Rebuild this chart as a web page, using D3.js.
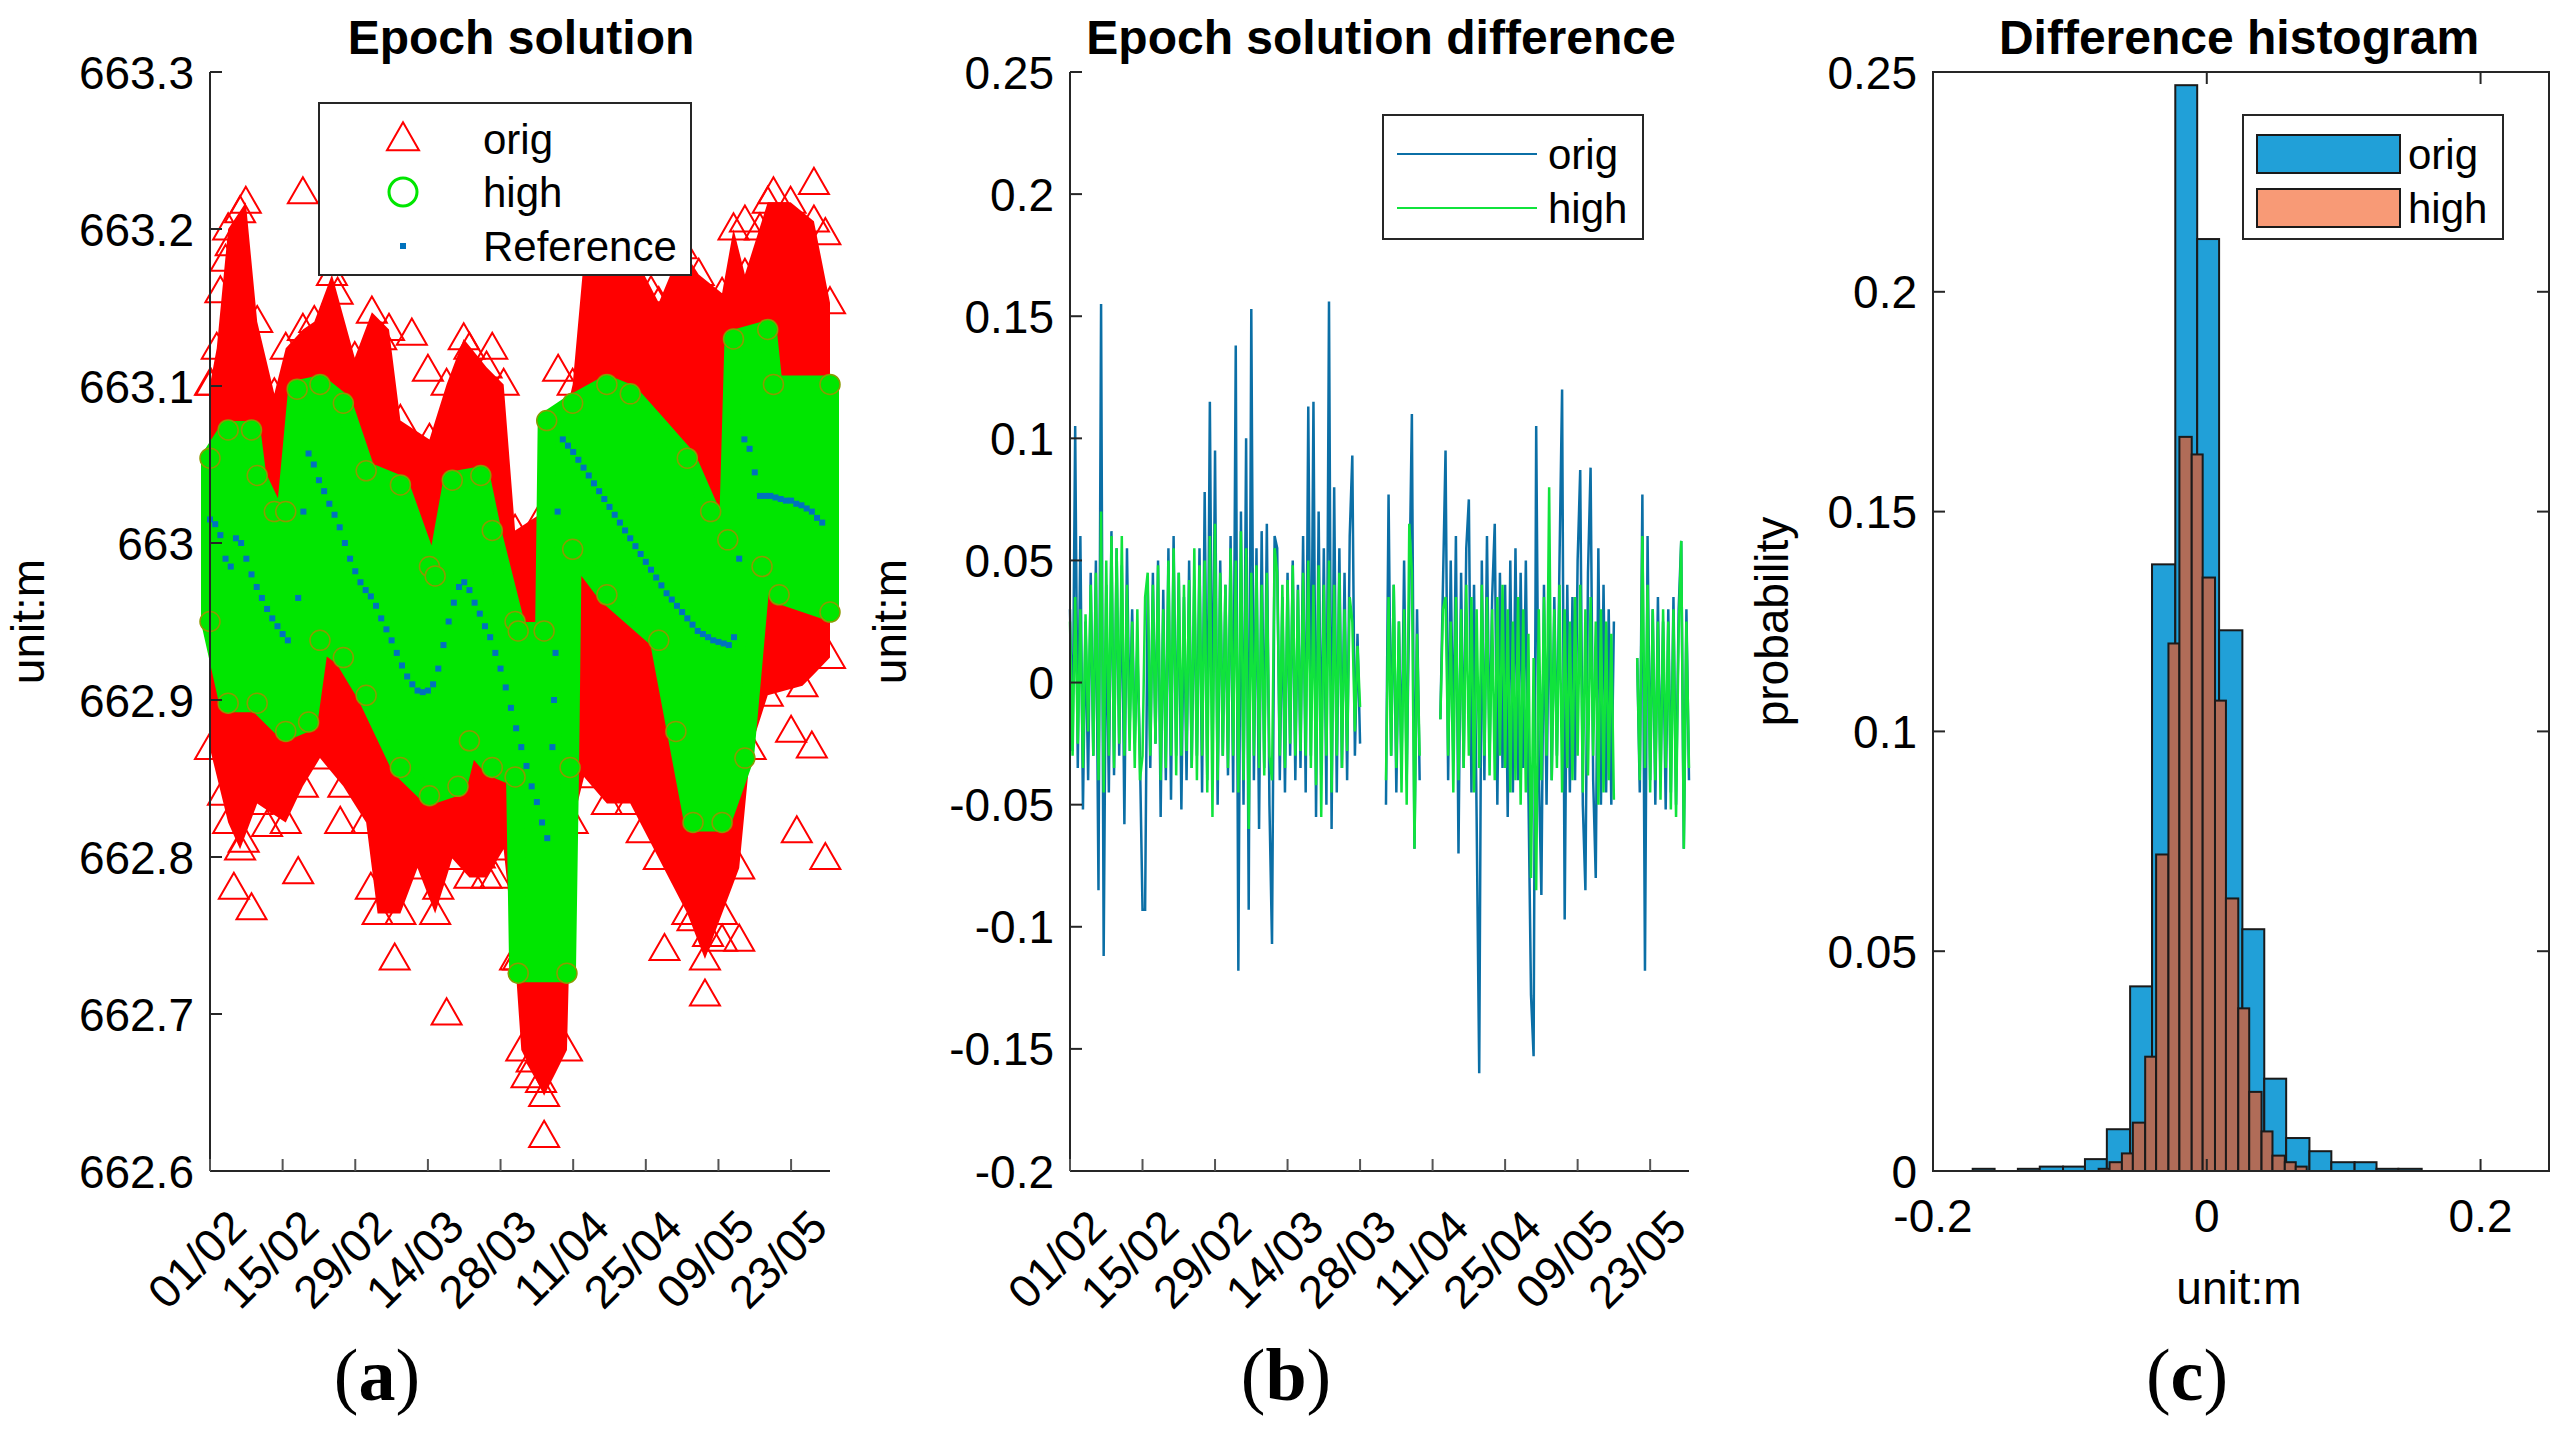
<!DOCTYPE html>
<html>
<head>
<meta charset="utf-8">
<script src="https://cdn.jsdelivr.net/npm/d3@7"></script>
<style>
body { margin: 0; background: #fff; }
text { font-family: "Liberation Sans", Arial, sans-serif; }
</style>
</head>
<body>
<svg id="chart" width="2568" height="1430"></svg>
<script>
// days counted from 01/02/2016
const dateTicks = [0, 14, 28, 42, 56, 70, 84, 98, 112]
const dateLabels = ["01/02", "15/02", "29/02", "14/03", "28/03", "11/04", "25/04", "09/05", "23/05"]

// (a) epoch solution
const refSeries = [[0,663.015],[1,663.012],[2,663.005],[3,662.99],[4,662.985],[5,663.003],[6,663.0],[7,662.99],[8,662.98],[9,662.972],[10,662.965],[11,662.958],[12,662.952],[13,662.947],[14,662.942],[15,662.938],[17,662.965],[18,663.02],[19,663.057],[20,663.05],[21,663.04],[22,663.033],[23,663.025],[24,663.018],[25,663.01],[26,663.0],[27,662.99],[28,662.982],[29,662.975],[30,662.97],[31,662.966],[32,662.96],[33,662.952],[34,662.945],[35,662.938],[36,662.93],[37,662.922],[38,662.915],[39,662.91],[40,662.906],[41,662.905],[42,662.906],[43,662.91],[44,662.92],[45,662.935],[46,662.95],[47,662.962],[48,662.972],[49,662.975],[50,662.97],[51,662.962],[52,662.955],[53,662.947],[54,662.94],[55,662.93],[56,662.92],[57,662.908],[58,662.895],[59,662.882],[60,662.87],[61,662.858],[62,662.845],[63,662.835],[64,662.822],[65,662.812],[66,662.87],[66.3,662.9],[66.6,662.93],[67,663.02],[68,663.066],[69,663.062],[70,663.058],[71,663.053],[72,663.048],[73,663.043],[74,663.038],[75,663.033],[76,663.028],[77,663.023],[78,663.018],[79,663.013],[80,663.008],[81,663.003],[82,662.998],[83,662.993],[84,662.988],[85,662.983],[86,662.978],[87,662.973],[88,662.968],[89,662.964],[90,662.96],[91,662.956],[92,662.952],[93,662.948],[94,662.944],[95,662.942],[96,662.94],[97,662.938],[98,662.937],[99,662.936],[100,662.935],[101,662.94],[102,662.99],[103,663.066],[104,663.06],[105,663.045],[106,663.03],[107,663.03],[108,663.03],[109,663.029],[110,663.028],[111,663.027],[112,663.027],[113,663.025],[114,663.024],[115,663.022],[116,663.02],[117,663.016],[118,663.013]]

const highTop = [[0,663.054],[3.5,663.072],[8,663.072],[9.1,663.043],[12.4,663.02],[14.6,663.02],[16.8,663.098],[21.2,663.101],[25.7,663.089],[30.1,663.046],[36.7,663.037],[42.3,662.985],[43.4,662.979],[46.7,663.04],[52.2,663.043],[54.4,663.008],[58.8,662.95],[59.4,662.944],[64.4,662.944],[64.9,663.078],[69.9,663.089],[76.5,663.101],[81,663.095],[92,663.054],[96.5,663.02],[99.8,663.002],[100.9,663.13],[107.5,663.136],[108.6,663.101],[119.5,663.101]]
const highBottom = [[0,662.95],[3.5,662.898],[9.1,662.898],[14.6,662.88],[19,662.886],[21.2,662.938],[25.7,662.927],[30.1,662.903],[36.7,662.857],[42.3,662.839],[47.8,662.845],[50,662.874],[54.4,662.857],[58.8,662.851],[59.4,662.726],[68.8,662.726],[69.4,662.857],[69.9,662.996],[76.5,662.967],[86.5,662.938],[89.8,662.88],[93.1,662.822],[98.7,662.822],[103.1,662.863],[106.4,662.985],[109.7,662.967],[119.5,662.956]]

const origTop = [[0,663.101],[1.3,663.124],[3.5,663.2],[6.9,663.217],[9.1,663.141],[12.4,663.095],[14.6,663.124],[17.9,663.136],[20.1,663.141],[23.5,663.171],[27.9,663.118],[31.2,663.147],[34.5,663.136],[36.7,663.078],[42.3,663.066],[45.6,663.101],[48.9,663.13],[53.3,663.112],[56.6,663.101],[58.8,663.008],[64.4,663.02],[65.5,662.985],[66.6,663.054],[69.9,663.101],[72.1,663.182],[75.4,663.188],[81,663.188],[86.5,663.153],[90.9,663.188],[94.2,663.171],[98.7,663.159],[100.9,663.2],[103.1,663.171],[107.5,663.217],[111.9,663.217],[116.4,663.205],[119.5,663.153]]
const origBottom = [[0,662.869],[3.5,662.822],[5.8,662.805],[9.1,662.834],[14.6,662.822],[17.9,662.845],[21.2,662.863],[25.7,662.845],[30.1,662.822],[32.3,662.764],[36.7,662.764],[40,662.793],[43.4,662.764],[46.7,662.799],[50,662.787],[53.3,662.787],[56.6,662.805],[58.8,662.735],[60,662.677],[64.4,662.648],[68.8,662.677],[69.9,662.822],[72.1,662.851],[76.5,662.834],[81,662.834],[86.5,662.799],[92,662.764],[95.4,662.735],[98.7,662.764],[102,662.793],[104.2,662.869],[107.5,662.903],[114.2,662.909],[119.5,662.927]]
const origOutliers = [[0.2,663.101],[5.8,663.211],[8,662.767],[17.9,663.223],[25.1,662.822],[24.6,663.159],[38.9,663.133],[45.6,662.7],[50,663.124],[54.4,663.124],[55,662.787],[64.4,662.622],[67.1,663.11],[73.2,663.182],[95.4,662.712],[102,662.747],[103.1,663.205],[116.4,663.229],[118.6,663.197],[113.1,662.816],[118.6,662.799],[35.6,662.735],[17,662.79],[4.6,662.78],[87.6,662.741],[108.6,663.223],[98.7,662.747],[83.2,662.816],[63.8,662.657],[59.4,662.735],[2,663.16],[3,663.18],[4,663.19],[2.5,662.84],[6.5,662.81],[11,662.82],[20,663.12],[28,663.1],[33,663.13],[42,663.11],[47,663.08],[77,663.17],[85,663.16],[92,663.17],[106,663.2],[110,663.19],[112,663.15],[115,663.14],[112,662.88],[116,662.87],[96,662.75],[93,662.76],[61,662.66],[62,662.67],[31,662.78],[44,662.78],[52,662.8]]

// (b) differences in mm, half-day samples per segment
const diffSegStart = [0, 61, 71.5, 109.5]
const diffOrig = [
  [30,-28,105,-35,60,-52,25,-40,45,-30, 50,-85,155,-112,40,-45,62,-38,55,-30, 48,-58,55,-20,30,-25,15,-30,-93,-93, 40,-35,45,-25,50,-55,38,-40,55,-48, 60,-30,45,-52,35,-40,50,-35,42,-30, 55,-45,78,-40,115,-35,95,-50,50,-30, 40,-38,60,-45,138,-118,70,-50,100,-93, 153,-40,55,-60,62,-35,65,-50,-107,60, 55,-40,35,-45,45,-30,50,-40,40,-35, 60,-45,113,-30,115,-55,70,-38,55,-50, 156,-60,80,-45,55,-35,45,-40,60,93, -30,20,-25],
  [-50,77,-30,40,-45,25,-35,50,-40,35,110,-68,30,-40],
  [-15,40,95,-40,50,-30,60,-70,45,-35, 55,75,-45,40,-55,-160,50,-40,60,-30, 35,65,-50,45,-35,40,-55,50,-45,55, -40,45,-35,50,-45,-128,-153,105,-35,-87, 40,-50,45,-40,35,-30,50,120,-97,40, -45,35,-40,50,87,-50,-85,45,88,-40, -80,55,-50,40,-45,30,-50,25],
  [10,-45,77,-118,60,-40,30,-50,35,-40,25,-52,30,-45,35,-50,30,58,-68,30,-40]
]
const diffHigh = [
  [25,-30,35,-25,30,-35,28,-20,40,-30, 45,-40,70,-45,50,-30,60,-35,55,-25, 60,-30,40,-28,25,-35,30,-40,-30,35, 45,-30,40,-25,48,-40,30,-35,50,-30, 55,-38,45,-30,40,-28,42,-35,55,-40, 48,-30,50,-45,60,-55,65,-40,45,-30, 40,-35,55,-30,50,-45,62,-40,55,-60, 45,-30,48,-35,40,-38,45,-30,-40,55, 45,-30,40,-35,42,-25,48,-30,38,-28, 45,-30,50,-35,40,-42,48,-55,40,-30, 50,-45,40,-30,45,-35,30,-28,35,25, -20,15,-10],
  [-40,35,-30,40,-35,25,-45,30,-50,65,45,-68,20,-30],
  [-15,30,35,-30,25,-45,35,-40,30,-35, 40,-30,35,-45,30,-35,40,-30,35,-38, 30,-40,35,-30,40,-35,30,-45,25,-40, 35,-50,30,-45,20,-80,10,-85,30,-40, 35,-30,80,-40,30,-35,40,-45,30,-35, 25,-40,35,-30,40,-45,30,-38,35,-30, 25,-50,30,-45,25,-40,20,-48],
  [10,-40,60,-35,40,-45,30,-40,25,-48,30,-35,25,-52,30,-55,20,58,-68,25,-35]
]

// (c) histograms
const origEdges = [-0.171,-0.155,-0.138,-0.122,-0.105,-0.089,-0.073,-0.056,-0.040,-0.023,-0.007,0.009,0.026,0.042,0.058,0.075,0.091,0.108,0.124,0.140,0.157]
const origProb = [0.0005,0,0.0005,0.001,0.001,0.0027,0.0095,0.042,0.138,0.247,0.212,0.123,0.055,0.021,0.0075,0.0045,0.002,0.002,0.0005,0.0005]
const highEdges = [-0.079,-0.071,-0.062,-0.054,-0.045,-0.037,-0.028,-0.020,-0.011,-0.003,0.006,0.014,0.023,0.031,0.040,0.048,0.057,0.065,0.073]
const highProb = [0.0005,0.002,0.004,0.011,0.026,0.072,0.12,0.167,0.163,0.135,0.107,0.062,0.037,0.018,0.009,0.0035,0.002,0.001]

const svg = d3.select("#chart")
const plotTop = 72, plotBottom = 1171
const tickFont = 46

function tri(x, y, s) {
    const h = s * 0.87
    return `M${x},${y - h * 0.6}L${x + s / 2},${y + h * 0.4}L${x - s / 2},${y + h * 0.4}Z`
}

function title(x, t) {
    svg.append("text").attr("x", x).attr("y", 54).attr("text-anchor", "middle")
        .style("font-size", "48px").style("font-weight", "bold").text(t)
}

function yLabel(x, t) {
    svg.append("text").attr("transform", `translate(${x},${(plotTop + plotBottom) / 2}) rotate(-90)`)
        .attr("text-anchor", "middle").style("font-size", "46px").text(t)
}

function dateAxis(x) {
    const g = svg.append("g").attr("transform", `translate(0,${plotBottom})`)
    g.append("line").attr("x1", x.range()[0]).attr("x2", x.range()[1]).attr("stroke", "#262626").attr("stroke-width", 2)
    dateTicks.forEach((d, i) => {
        g.append("line").attr("x1", x(d)).attr("x2", x(d)).attr("y1", 0).attr("y2", -12).attr("stroke", "#555").attr("stroke-width", 2)
        g.append("text").attr("transform", `translate(${x(d) + 16},36) rotate(-45)`)
            .attr("text-anchor", "end").attr("dy", "0.7em").style("font-size", tickFont + "px").text(dateLabels[i])
    })
}

function leftAxis(y, x0, ticks, fmt) {
    const g = svg.append("g").attr("transform", `translate(${x0},0)`)
    g.append("line").attr("y1", plotTop).attr("y2", plotBottom).attr("stroke", "#262626").attr("stroke-width", 2)
    ticks.forEach(t => {
        g.append("line").attr("x1", 0).attr("x2", 12).attr("y1", y(t)).attr("y2", y(t)).attr("stroke", "#262626").attr("stroke-width", 2)
        g.append("text").attr("x", -16).attr("y", y(t)).attr("dy", "0.36em").attr("text-anchor", "end")
            .style("font-size", tickFont + "px").text(fmt(t))
    })
}

// ---------- panel (a)
{
    const x = d3.scaleLinear().domain([0, 119.5]).range([210, 830])
    const y = d3.scaleLinear().domain([662.6, 663.3]).range([plotBottom, plotTop])
    const g = svg.append("g")

    const band = (hi, lo) => {
        const days = Array.from(new Set(hi.map(d => d[0]).concat(lo.map(d => d[0])))).sort((a, b) => a - b)
        const hiF = d3.scaleLinear().domain(hi.map(d => d[0])).range(hi.map(d => d[1]))
        const loF = d3.scaleLinear().domain(lo.map(d => d[0])).range(lo.map(d => d[1]))
        return d3.area().x(d => x(d)).y0(d => y(loF(d))).y1(d => y(hiF(d)))(days)
    }

    g.append("path").attr("d", band(origTop, origBottom)).attr("fill", "#ff0000")
    origTop.concat(origBottom, origOutliers).forEach(d => {
        g.append("path").attr("d", tri(x(d[0]), y(d[1]), 30)).attr("fill", "none").attr("stroke", "#ff0000").attr("stroke-width", 2)
    })
    g.append("path").attr("d", band(highTop, highBottom)).attr("fill", "#00e600")
        .attr("stroke", "#00e600").attr("stroke-width", 18).attr("stroke-linejoin", "round")
    g.selectAll(".hc").data(highTop.concat(highBottom)).join("circle")
        .attr("cx", d => x(d[0])).attr("cy", d => y(d[1])).attr("r", 10)
        .attr("fill", "#00e600").attr("stroke", "#8a9a00").attr("stroke-width", 1.5)
    g.selectAll(".rf").data(refSeries).join("rect")
        .attr("x", d => x(d[0]) - 3).attr("y", d => y(d[1]) - 3).attr("width", 6).attr("height", 6)
        .attr("fill", "#0072bd")

    leftAxis(y, 210, [662.6, 662.7, 662.8, 662.9, 663, 663.1, 663.2, 663.3], d3.format(""))
    dateAxis(x)
    title(521, "Epoch solution")
    yLabel(44, "unit:m")

    const lg = svg.append("g")
    lg.append("rect").attr("x", 319).attr("y", 103).attr("width", 372).attr("height", 172).attr("fill", "#fff").attr("stroke", "#262626").attr("stroke-width", 2)
    lg.append("path").attr("d", tri(403, 139, 32)).attr("fill", "none").attr("stroke", "#ff0000").attr("stroke-width", 2)
    lg.append("circle").attr("cx", 403).attr("cy", 192).attr("r", 14).attr("fill", "none").attr("stroke", "#00e600").attr("stroke-width", 3)
    lg.append("rect").attr("x", 400).attr("y", 243).attr("width", 6).attr("height", 6).attr("fill", "#0072bd")
    ;["orig", "high", "Reference"].forEach((t, i) => {
        lg.append("text").attr("x", 483).attr("y", [139, 192, 246][i]).attr("dy", "0.36em").style("font-size", "42px").text(t)
    })
}

// ---------- panel (b)
{
    const x = d3.scaleLinear().domain([0, 119.5]).range([1070, 1689])
    const y = d3.scaleLinear().domain([-0.2, 0.25]).range([plotBottom, plotTop])
    const line = d3.line().x(d => x(d[0])).y(d => y(d[1] / 1000))
    const pts = (seg, k) => seg.map((v, i) => [diffSegStart[k] + i * 0.5, v])

    diffOrig.forEach((s, k) => svg.append("path").attr("d", line(pts(s, k))).attr("fill", "none").attr("stroke", "#0b6fa6").attr("stroke-width", 2.5))
    diffHigh.forEach((s, k) => svg.append("path").attr("d", line(pts(s, k))).attr("fill", "none").attr("stroke", "#10e33c").attr("stroke-width", 2.5))

    leftAxis(y, 1070, [-0.2, -0.15, -0.1, -0.05, 0, 0.05, 0.1, 0.15, 0.2, 0.25], d => String(+d.toFixed(2)))
    dateAxis(x)
    title(1381, "Epoch solution difference")
    yLabel(906, "unit:m")

    const lg = svg.append("g")
    lg.append("rect").attr("x", 1383).attr("y", 115).attr("width", 260).attr("height", 124).attr("fill", "#fff").attr("stroke", "#262626").attr("stroke-width", 2)
    ;[["orig", "#0b6fa6", 154], ["high", "#10e33c", 208]].forEach(d => {
        lg.append("line").attr("x1", 1397).attr("x2", 1537).attr("y1", d[2]).attr("y2", d[2]).attr("stroke", d[1]).attr("stroke-width", 2)
        lg.append("text").attr("x", 1548).attr("y", d[2]).attr("dy", "0.36em").style("font-size", "42px").text(d[0])
    })
}

// ---------- panel (c)
{
    const left = 1933, right = 2549
    const x = d3.scaleLinear().domain([-0.2, 0.25]).range([left, right])
    const y = d3.scaleLinear().domain([0, 0.25]).range([plotBottom, plotTop])

    svg.selectAll(".ob").data(origProb).join("rect")
        .attr("x", (d, i) => x(origEdges[i])).attr("width", (d, i) => x(origEdges[i + 1]) - x(origEdges[i]))
        .attr("y", d => y(d)).attr("height", d => y(0) - y(d))
        .attr("fill", "#21a0d8").attr("stroke", "#1a1a1a").attr("stroke-width", 2)
    svg.selectAll(".hb").data(highProb).join("rect")
        .attr("x", (d, i) => x(highEdges[i])).attr("width", (d, i) => x(highEdges[i + 1]) - x(highEdges[i]))
        .attr("y", d => y(d)).attr("height", d => y(0) - y(d))
        .attr("fill", "#b06c58").attr("stroke", "#1a1a1a").attr("stroke-width", 2)

    svg.append("rect").attr("x", left).attr("y", plotTop).attr("width", right - left).attr("height", plotBottom - plotTop)
        .attr("fill", "none").attr("stroke", "#262626").attr("stroke-width", 2)
    const yt = [0, 0.05, 0.1, 0.15, 0.2, 0.25]
    yt.forEach(t => {
        svg.append("line").attr("x1", left).attr("x2", left + 12).attr("y1", y(t)).attr("y2", y(t)).attr("stroke", "#262626").attr("stroke-width", 2)
        svg.append("line").attr("x1", right).attr("x2", right - 12).attr("y1", y(t)).attr("y2", y(t)).attr("stroke", "#262626").attr("stroke-width", 2)
        svg.append("text").attr("x", left - 16).attr("y", y(t)).attr("dy", "0.36em").attr("text-anchor", "end").style("font-size", tickFont + "px").text(t)
    })
    ;[-0.2, 0, 0.2].forEach(t => {
        svg.append("line").attr("x1", x(t)).attr("x2", x(t)).attr("y1", plotBottom).attr("y2", plotBottom - 12).attr("stroke", "#262626").attr("stroke-width", 2)
        svg.append("line").attr("x1", x(t)).attr("x2", x(t)).attr("y1", plotTop).attr("y2", plotTop + 12).attr("stroke", "#262626").attr("stroke-width", 2)
        svg.append("text").attr("x", x(t)).attr("y", 1232).attr("text-anchor", "middle").style("font-size", tickFont + "px").text(t)
    })
    title(2239, "Difference histogram")
    yLabel(1788, "probability")
    svg.append("text").attr("x", 2239).attr("y", 1304).attr("text-anchor", "middle").style("font-size", "46px").text("unit:m")

    const lg = svg.append("g")
    lg.append("rect").attr("x", 2243).attr("y", 115).attr("width", 260).attr("height", 124).attr("fill", "#fff").attr("stroke", "#262626").attr("stroke-width", 2)
    ;[["orig", "#21a0d8", 154], ["high", "#f89a76", 208]].forEach(d => {
        lg.append("rect").attr("x", 2257).attr("y", d[2] - 19).attr("width", 143).attr("height", 38).attr("fill", d[1]).attr("stroke", "#1a1a1a").attr("stroke-width", 2)
        lg.append("text").attr("x", 2408).attr("y", d[2]).attr("dy", "0.36em").style("font-size", "42px").text(d[0])
    })
}

// sub-figure labels
;[["a", 377], ["b", 1286], ["c", 2187]].forEach(d => {
    const t = svg.append("text").attr("x", d[1]).attr("y", 1400).attr("text-anchor", "middle")
        .style("font-family", "'Liberation Serif', serif").style("font-size", "74px")
    t.append("tspan").text("(")
    t.append("tspan").style("font-weight", "bold").text(d[0])
    t.append("tspan").text(")")
})
</script>
</body>
</html>
